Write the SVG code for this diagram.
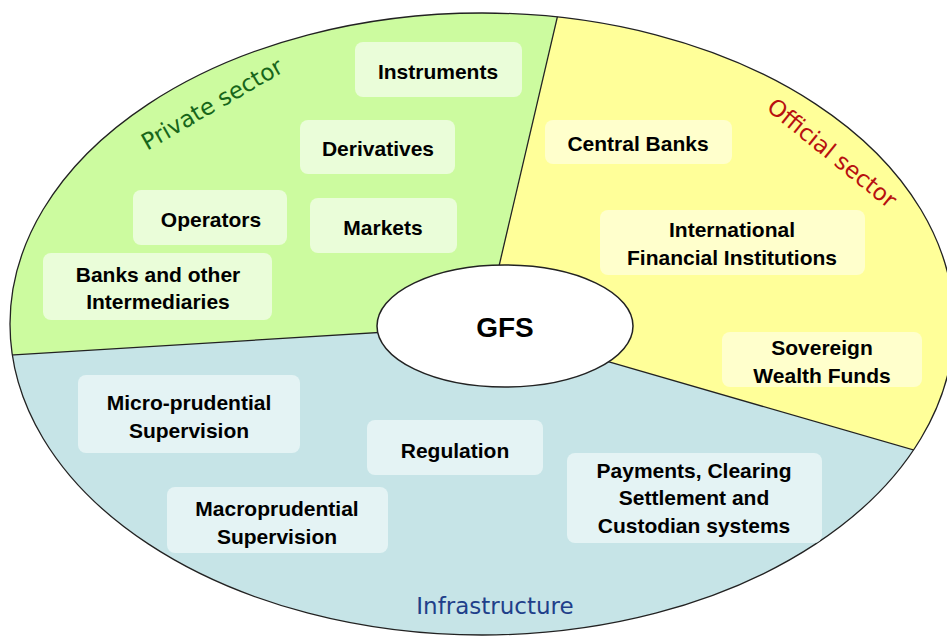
<svg xmlns="http://www.w3.org/2000/svg" width="947" height="636" viewBox="0 0 947 636">
<style>
.box-g{fill:#EAFDD9}
.box-y{fill:#FFFFCC}
.box-b{fill:#E4F3F4}
.t{font-family:"Liberation Sans",Arial,sans-serif;font-weight:bold;font-size:21px;fill:#000;text-anchor:middle;dominant-baseline:central}
.sec{font-family:"DejaVu Sans",Verdana,sans-serif;font-size:23px}
.div{stroke:#222;stroke-width:1.3;fill:none}
</style>
<defs>
<clipPath id="oval"><ellipse cx="482" cy="324" rx="472" ry="311"/></clipPath>
</defs>
<rect width="947" height="636" fill="#fff"/>
<g id="sectors">
<ellipse cx="482" cy="324" rx="472" ry="311" fill="#C6E4E7"/>
<g clip-path="url(#oval)">
<path d="M -20 357 L 485 326 L 566 -20 L -20 -20 Z" fill="#CCFB9F"/>
<path d="M 485 326 L 566 -20 L 1000 -20 L 1000 475 Z" fill="#FFFF99"/>
</g>
</g>
<g id="connectors" clip-path="url(#oval)">
<line class="div" x1="-20" y1="357" x2="485" y2="326"/>
<line class="div" x1="485" y1="326" x2="566" y2="-20"/>
<line class="div" x1="485" y1="326" x2="1000" y2="475"/>
</g>
<ellipse cx="482" cy="324" rx="472" ry="311" class="div" stroke-width="1.5"/>
<g id="labels">
<text class="sec" fill="#17661A" transform="translate(212,104) rotate(-30)" text-anchor="middle" dominant-baseline="central">Private sector</text>
<text class="sec" fill="#B81010" transform="translate(832,153) rotate(39)" text-anchor="middle" dominant-baseline="central">Official sector</text>
<text class="sec" fill="#1F3F8A" x="495" y="606" text-anchor="middle" dominant-baseline="central">Infrastructure</text>
</g>
<g id="instruments"><rect class="box-g" x="355" y="42" width="167" height="55" rx="8"/><text class="t" x="438" y="71">Instruments</text></g>
<g id="derivatives"><rect class="box-g" x="300" y="120" width="155" height="54" rx="8"/><text class="t" x="378" y="148">Derivatives</text></g>
<g id="markets"><rect class="box-g" x="310" y="198" width="147" height="55" rx="8"/><text class="t" x="383" y="227">Markets</text></g>
<g id="operators"><rect class="box-g" x="133" y="190" width="154" height="55" rx="8"/><text class="t" x="211" y="219">Operators</text></g>
<g id="banks"><rect class="box-g" x="43" y="253" width="229" height="67" rx="8"/><text class="t" x="158" y="274">Banks and other</text><text class="t" x="158" y="301">Intermediaries</text></g>
<g id="central-banks"><rect class="box-y" x="545" y="120" width="187" height="44" rx="8"/><text class="t" x="638" y="143">Central Banks</text></g>
<g id="ifi"><rect class="box-y" x="600" y="210" width="265" height="65" rx="8"/><text class="t" x="732" y="229">International</text><text class="t" x="732" y="257">Financial Institutions</text></g>
<g id="swf"><rect class="box-y" x="722" y="332" width="200" height="55" rx="8"/><text class="t" x="822" y="347">Sovereign</text><text class="t" x="822" y="375">Wealth Funds</text></g>
<g id="micro"><rect class="box-b" x="78" y="375" width="222" height="78" rx="8"/><text class="t" x="189" y="402">Micro-prudential</text><text class="t" x="189" y="430">Supervision</text></g>
<g id="macro"><rect class="box-b" x="167" y="487" width="221" height="66" rx="8"/><text class="t" x="277" y="508">Macroprudential</text><text class="t" x="277" y="536">Supervision</text></g>
<g id="regulation"><rect class="box-b" x="367" y="420" width="176" height="55" rx="8"/><text class="t" x="455" y="450">Regulation</text></g>
<g id="payments"><rect class="box-b" x="567" y="453" width="255" height="90" rx="8"/><text class="t" x="694" y="470">Payments, Clearing</text><text class="t" x="694" y="497">Settlement and</text><text class="t" x="694" y="525">Custodian systems</text></g>
<g id="gfs"><ellipse cx="505" cy="326" rx="128" ry="61" fill="#fff" stroke="#222" stroke-width="1.5"/><text class="t" x="505" y="327" style="font-size:28px">GFS</text></g>
</svg>
